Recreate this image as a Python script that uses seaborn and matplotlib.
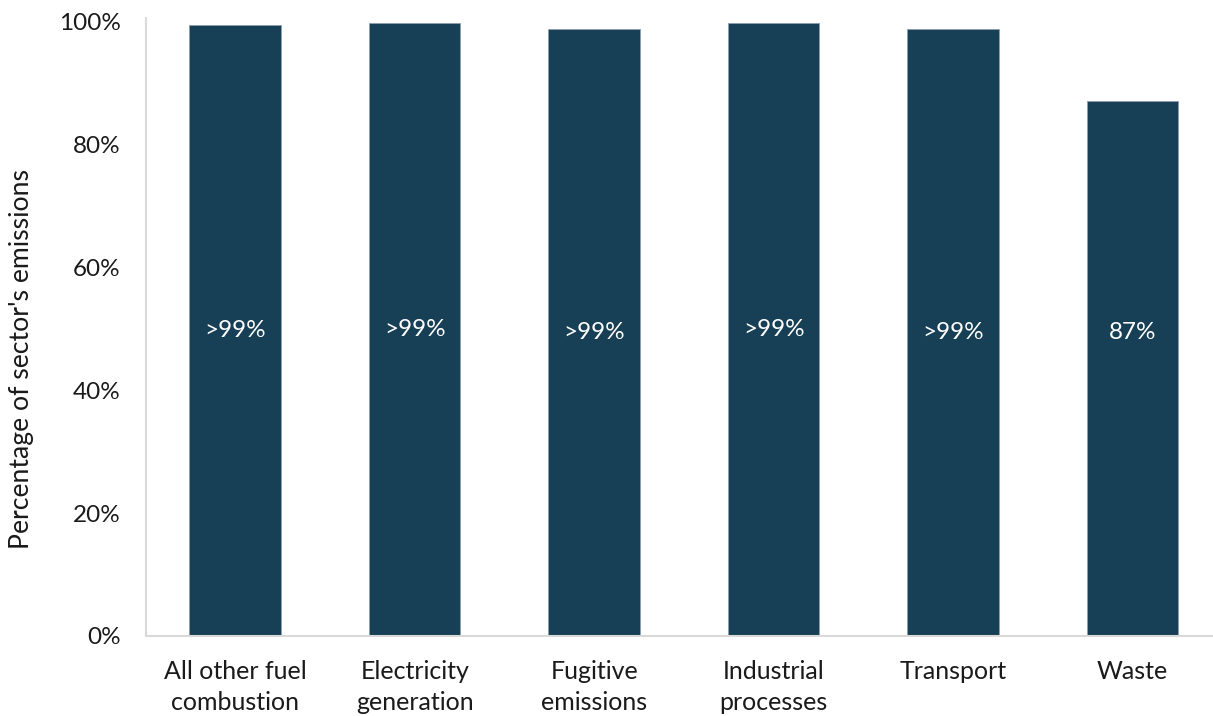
import matplotlib
matplotlib.use("Agg")
import matplotlib.pyplot as plt
import seaborn as sns
import pandas as pd
import numpy as np

# Share of each sector's emissions covered
sectors = ["All other fuel\ncombustion", "Electricity\ngeneration", "Fugitive\nemissions",
           "Industrial\nprocesses", "Transport", "Waste"]
shares = [99.5, 99.8, 98.9, 99.8, 98.9, 87.1]
labels = [">99%", ">99%", ">99%", ">99%", ">99%", "87%"]
y_ticks = [0, 20, 40, 60, 80, 100]
y_tick_labels = ["0%", "20%", "40%", "60%", "80%", "100%"]

sns.set_theme(style="white")
plt.rcParams["font.family"] = ["Lato", "DejaVu Sans"]

df = pd.DataFrame({"sector": sectors, "share": shares})

fig = plt.figure(figsize=(12.13, 7.16), dpi=100)
ax = fig.add_axes([145.5 / 1213, 1 - 636 / 716, 1 - 145.5 / 1213, (636 - 18) / 716])

sns.barplot(data=df, x="sector", y="share", color="#173F55", saturation=1,
            width=0.51, edgecolor="#8aa0ae", linewidth=0.6, ax=ax)

for i, (v, lab) in enumerate(zip(shares, labels)):
    ax.text(i, max(v, 98.9) / 2, lab, ha="center", va="center",
            color="white", fontsize=17.5)

ax.set_xlim(-0.5, 5.448)
ax.set_ylim(0, 100.65)
ax.set_yticks(y_ticks)
ax.set_yticklabels(y_tick_labels, fontsize=17.5, color="#1a1a1a")
ax.tick_params(axis="x", labelsize=18, colors="#1a1a1a", pad=17, length=0)
for t in ax.get_xticklabels():
    t.set_linespacing(1.45)
ax.tick_params(axis="y", pad=18, length=0)
ax.set_xlabel("")
ax.set_ylabel("Percentage of sector's emissions", fontsize=19.2, color="#1a1a1a")
ax.yaxis.set_label_coords(-0.104, 0.448)

for side in ["top", "right"]:
    ax.spines[side].set_visible(False)
for side in ["left", "bottom"]:
    ax.spines[side].set_color("#d9d9d9")
    ax.spines[side].set_linewidth(1.5)

fig.savefig("out.png", dpi=100)
